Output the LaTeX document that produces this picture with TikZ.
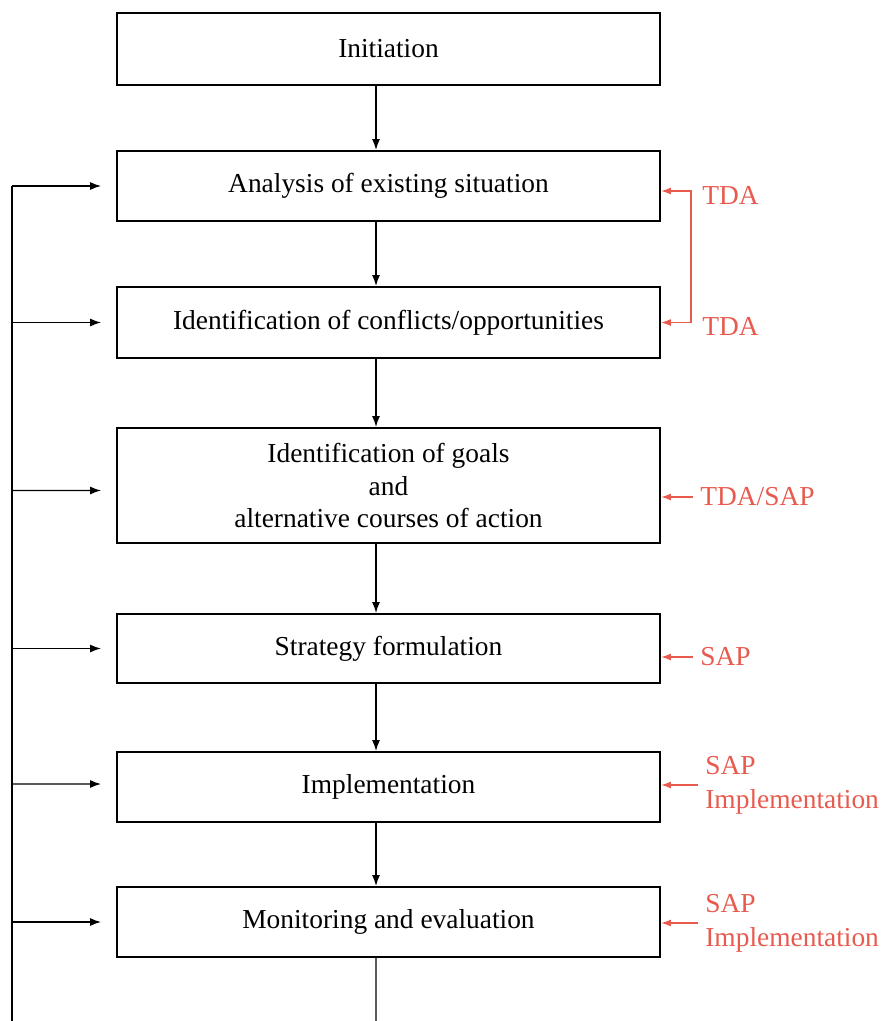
\documentclass[tikz,border=0pt]{standalone}
\usepackage{fontspec}
\setmainfont{Liberation Serif}
\usepackage{xcolor}
\usetikzlibrary{arrows.meta,positioning}
\definecolor{notered}{RGB}{232,90,78}
\tikzset{redtip/.tip={Latex[length=0.2cm,width=0.14cm]}}

\begin{document}
\begin{tikzpicture}[x=0.02cm,y=-0.02cm,
    stage/.style={draw=black,line width=1.1pt,minimum width=10.86cm,inner sep=0pt,align=center,
      font=\fontsize{15.6}{18.7}\selectfont},
    flow/.style={-{Latex[length=0.22cm,width=0.16cm]},line width=0.8pt},
    loopline/.style={line width=0.8pt},
    note/.style={text=notered,anchor=west,inner sep=0pt,align=left,
      font=\fontsize{15.6}{19.5}\selectfont},
    noteflow/.style={-redtip,draw=notered,line width=0.8pt}]
  \def\cx{388.5}
  \def\sh{-0.25cm}
  \useasboundingbox (0,0) rectangle (881,1021);
  % stages of the cycle
  \node[stage,minimum height=1.44cm] (init) at (\cx,49) {Initiation};
  \node[stage,minimum height=1.40cm] (ana) at (\cx,186) {Analysis of existing situation};
  \node[stage,minimum height=1.42cm] (conf) at (\cx,322.5) {Identification of conflicts/opportunities};
  \node[stage,minimum height=2.30cm] (goal) at (\cx,485.5) {Identification of goals\\and\\alternative courses of action};
  \node[stage,minimum height=1.38cm] (strat) at (\cx,648.5) {Strategy formulation};
  \node[stage,minimum height=1.40cm] (impl) at (\cx,787) {Implementation};
  \node[stage,minimum height=1.40cm] (mon) at (\cx,922) {Monitoring and evaluation};
  % downward arrows
  \draw[flow] ([xshift=\sh]init.south) -- ([xshift=\sh]ana.north);
  \draw[flow] ([xshift=\sh]ana.south) -- ([xshift=\sh]conf.north);
  \draw[flow] ([xshift=\sh]conf.south) -- ([xshift=\sh]goal.north);
  \draw[flow] ([xshift=\sh]goal.south) -- ([xshift=\sh]strat.north);
  \draw[flow] ([xshift=\sh]strat.south) -- ([xshift=\sh]impl.north);
  \draw[flow] ([xshift=\sh]impl.south) -- ([xshift=\sh]mon.north);
  \coordinate (out) at (376,1021);
  \draw[loopline] ([xshift=\sh]mon.south) -- (out);
  % feedback loop on the left
  \coordinate (loop) at (12,1021);
  \draw[loopline] (loop |- ana.west) -- (loop);
  \foreach \s in {ana,conf,strat,mon}
    \draw[flow] (loop |- \s.west) -- ([xshift=-0.3cm]\s.west);
  \draw[flow] (loop |- goal.west) ++(0,5) -- ([xshift=-0.3cm,yshift=-0.1cm]goal.west);
  \draw[flow] (loop |- impl.west) ++(0,-3) -- ([xshift=-0.3cm,yshift=0.06cm]impl.west);
  % notes on the right
  \node[note] (tda1) at (702,195) {TDA};
  \node[note] (tda2) at (702,326) {TDA};
  \node[note] (tdasap) at (700,497) {TDA/SAP};
  \node[note] (sap) at (700,657) {SAP};
  \node[note] (sapimp1) at (705,785) {SAP\\Implementation};
  \node[note] (sapimp2) at (705,923) {SAP\\Implementation};
  \draw[noteflow,redtip-redtip]
    ([yshift=-0.1cm]ana.east) -- ++(30,0) |- (conf.east);
  \draw[noteflow] ([xshift=-0.14cm]tdasap.west) -- (goal.east |- tdasap.west);
  \draw[noteflow] ([xshift=-0.14cm]sap.west) -- (strat.east |- sap.west);
  \draw[noteflow] ([xshift=-0.14cm]sapimp1.west) -- (impl.east |- sapimp1.west);
  \draw[noteflow] ([xshift=-0.14cm]sapimp2.west) -- (mon.east |- sapimp2.west);
\end{tikzpicture}
\end{document}
